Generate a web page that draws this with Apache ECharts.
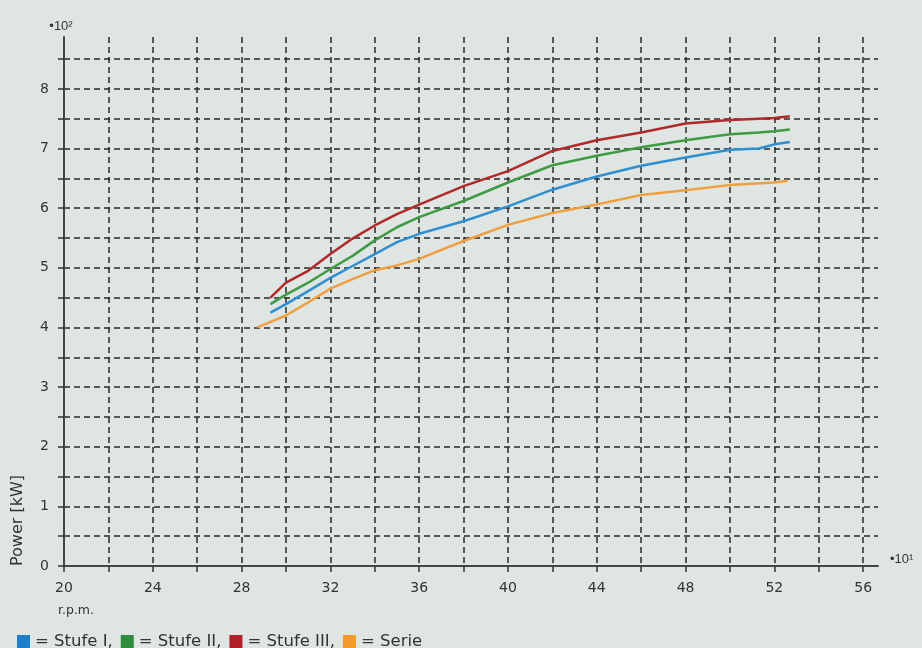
<!DOCTYPE html>
<html>
<head>
<meta charset="utf-8">
<script src="https://cdn.jsdelivr.net/npm/echarts@6/dist/echarts.min.js"></script>
<style>
html,body{margin:0;padding:0;background:#dfe5e2;}
#chart{width:922px;height:648px;}
</style>
</head>
<body>
<div id="chart"></div>
<script>
// x values in units of 10 r.p.m.; power in units of 100 kW
var rpmStufe = [29.3, 30, 31, 32, 33, 34, 35, 36, 38, 40, 42, 44, 46, 48, 50, 51.3, 52, 52.7];
var stufeI   = [4.25, 4.39, 4.61, 4.83, 5.03, 5.23, 5.43, 5.57, 5.78, 6.03, 6.31, 6.53, 6.71, 6.85, 6.98, 7.0, 7.07, 7.11];
var stufeII  = [4.39, 4.55, 4.75, 4.98, 5.2, 5.46, 5.68, 5.85, 6.12, 6.43, 6.72, 6.88, 7.02, 7.14, 7.24, 7.27, 7.29, 7.32];
var stufeIII = [4.5, 4.75, 4.95, 5.23, 5.49, 5.71, 5.9, 6.06, 6.37, 6.62, 6.96, 7.14, 7.27, 7.42, 7.48, 7.5, 7.51, 7.54];
var rpmSerie = [28.7, 30, 31, 32, 33, 34, 35, 36, 38, 40, 42, 44, 46, 48, 50, 52, 52.6];
var serie    = [4.0, 4.2, 4.42, 4.65, 4.81, 4.96, 5.04, 5.15, 5.45, 5.72, 5.92, 6.06, 6.22, 6.3, 6.39, 6.43, 6.46];
var seriesNames = ['Stufe I', 'Stufe II', 'Stufe III', 'Serie'];
var seriesColors = ['#2f8fd0', '#3f9a44', '#b02a2a', '#f0a040'];
var legendColors = ['#1f7fca', '#2e8e3e', '#b01e2a', '#f29a2a'];

function pairs(xs, ys) { return xs.map(function (x, i) { return [x, ys[i]]; }); }

var chart = echarts.init(document.getElementById('chart'));
var gridLine = { show: true, lineStyle: { color: '#2a2a2a', width: 1.5, type: [6, 4] } };
var data = [pairs(rpmStufe, stufeI), pairs(rpmStufe, stufeII), pairs(rpmStufe, stufeIII), pairs(rpmSerie, serie)];
var FONT = 'DejaVu Sans';

chart.setOption({
  backgroundColor: '#dfe5e2',
  animation: false,
  grid: { left: 64, right: 44, top: 37, bottom: 82, containLabel: false },
  xAxis: {
    type: 'value', min: 20, max: 56.67, interval: 2,
    name: '•10¹', nameLocation: 'end', nameGap: 12,
    nameTextStyle: { color: '#333', fontSize: 13, fontFamily: 'Liberation Sans', verticalAlign: 'bottom', padding: [0, 0, 0, 0] },
    axisLine: { show: true, lineStyle: { color: '#444', width: 2 } },
    axisTick: { show: true, length: 6, lineStyle: { color: '#333', width: 1.5 } },
    axisLabel: {
      color: '#333', fontSize: 14, fontFamily: FONT, margin: 15,
      showMaxLabel: false,
      formatter: function (v) { return (v % 4 === 0) ? String(v) : ''; }
    },
    splitLine: Object.assign({ showMinLine: false, showMaxLine: false }, gridLine)
  },
  yAxis: {
    type: 'value', min: 0, max: 8.87, interval: 0.5,
    name: '•10²', nameLocation: 'end', nameGap: 4,
    nameTextStyle: { color: '#333', fontSize: 13, fontFamily: 'Liberation Sans', align: 'center', padding: [0, 0, 0, -6] },
    axisLine: { show: true, lineStyle: { color: '#444', width: 2 } },
    axisTick: { show: true, length: 6, lineStyle: { color: '#333', width: 1.5 } },
    axisLabel: {
      color: '#333', fontSize: 14, fontFamily: FONT, margin: 15,
      showMaxLabel: false,
      formatter: function (v) { return (Math.abs(v - Math.round(v)) < 1e-9) ? String(Math.round(v)) : ''; }
    },
    splitLine: Object.assign({ showMinLine: false, showMaxLine: false }, gridLine)
  },
  legend: {
    left: 12, top: 628, itemWidth: 13, itemHeight: 13, itemGap: 8, icon: 'rect',
    data: seriesNames.map(function (n, i) { return { name: n, itemStyle: { color: legendColors[i] } }; }),
    textStyle: { color: '#333', fontSize: 16.5, fontFamily: FONT },
    formatter: function (name) { return '= ' + name + (name === 'Serie' ? '' : ','); },
    selectedMode: false
  },
  graphic: [
    { type: 'text', left: 10, top: 475, rotation: Math.PI / 2,
      style: { text: 'Power [kW]', fill: '#333', fontSize: 16, fontFamily: FONT } },
    { type: 'text', left: 58, top: 604,
      style: { text: 'r.p.m.', fill: '#333', fontSize: 12.5, fontFamily: FONT } }
  ],
  series: seriesNames.map(function (n, i) {
    return {
      name: n, type: 'line', data: data[i], showSymbol: false, symbol: 'none',
      lineStyle: { color: seriesColors[i], width: 2.5 },
      itemStyle: { color: legendColors[i] },
      z: 3 + (3 - i)
    };
  })
});
</script>
</body>
</html>
